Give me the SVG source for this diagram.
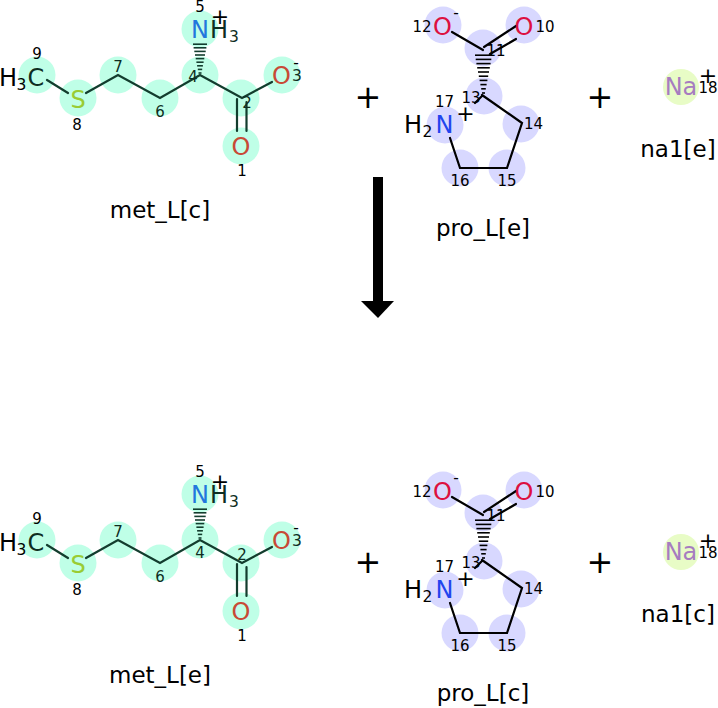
<svg xmlns="http://www.w3.org/2000/svg" width="718" height="708" viewBox="0 0 718 708">
<style>
text{font-family:"DejaVu Sans","Liberation Sans",sans-serif;}
.a{font-size:24px;text-anchor:middle;}
.n{font-size:15px;text-anchor:middle;}
.s{font-size:15.5px;text-anchor:middle;}
.ch{font-size:22px;text-anchor:middle;}
.lbl{font-size:23px;text-anchor:middle;fill:#000;}
.op{font-size:32px;text-anchor:middle;fill:#000;}
.cm{fill:#bfffe7;}
.cp{fill:#d8d8ff;}
.cn{fill:#e8fcc6;}
.bm{stroke:#133d2e;stroke-width:2.2;fill:none;stroke-linecap:round;}
.bp{stroke:#000;stroke-width:2.2;fill:none;stroke-linecap:round;}
.hm{stroke:#133d2e;stroke-width:1.6;}
.hp{stroke:#000;stroke-width:1.6;}
.dm{fill:#0e2e22;}
.k{fill:#000;}
.Om{fill:#c84a36;}
.Nm{fill:#2277dd;}
.Sm{fill:#99cc33;}
.Op{fill:#dd1040;}
.Np{fill:#2244ee;}
.Na{fill:#a67cc0;}
</style>
<defs>
<g id="hashM">
<line class="hm" x1="-1.5" y1="0" x2="1.5" y2="0"/>
<line class="hm" x1="-2.2" y1="-3.6" x2="2.2" y2="-3.6"/>
<line class="hm" x1="-2.9" y1="-7.2" x2="2.9" y2="-7.2"/>
<line class="hm" x1="-3.6" y1="-10.8" x2="3.6" y2="-10.8"/>
<line class="hm" x1="-4.3" y1="-14.4" x2="4.3" y2="-14.4"/>
<line class="hm" x1="-5" y1="-18" x2="5" y2="-18"/>
<line class="hm" x1="-5.7" y1="-21.6" x2="5.7" y2="-21.6"/>
<line class="hm" x1="-6.4" y1="-25.2" x2="6.4" y2="-25.2"/>
<line class="hm" x1="-7" y1="-28.8" x2="7" y2="-28.8"/>
</g>
<g id="hashP">
<line class="hp" x1="-1.5" y1="0" x2="1.5" y2="0"/>
<line class="hp" x1="-2.3" y1="-4.2" x2="2.3" y2="-4.2"/>
<line class="hp" x1="-3.1" y1="-8.4" x2="3.1" y2="-8.4"/>
<line class="hp" x1="-3.9" y1="-12.6" x2="3.9" y2="-12.6"/>
<line class="hp" x1="-4.7" y1="-16.8" x2="4.7" y2="-16.8"/>
<line class="hp" x1="-5.5" y1="-21" x2="5.5" y2="-21"/>
<line class="hp" x1="-6.3" y1="-25.2" x2="6.3" y2="-25.2"/>
<line class="hp" x1="-7.1" y1="-29.4" x2="7.1" y2="-29.4"/>
<line class="hp" x1="-7.8" y1="-33.6" x2="7.8" y2="-33.6"/>
<line class="hp" x1="-8.5" y1="-37.8" x2="8.5" y2="-37.8"/>
</g>
<g id="metBody">
<circle class="cm" cx="37" cy="75" r="18.5"/>
<circle class="cm" cx="78" cy="98" r="18.5"/>
<circle class="cm" cx="118" cy="75" r="18.5"/>
<circle class="cm" cx="160" cy="98" r="18.5"/>
<circle class="cm" cx="200" cy="75" r="18.5"/>
<circle class="cm" cx="200" cy="29" r="18.5"/>
<circle class="cm" cx="241" cy="98" r="18.5"/>
<circle class="cm" cx="282" cy="75" r="18.5"/>
<circle class="cm" cx="241" cy="146" r="18.5"/>
<path class="bm" d="M47 80L68 93M86 93L118 75L160 98L200 75L242 98L272 82M237 99V131M246.5 102V131"/>
<use href="#hashM" transform="translate(200,73)"/>
<text class="a k" x="8" y="86">H</text>
<text class="s k" x="21.5" y="90">3</text>
<text class="a dm" x="36" y="86">C</text>
<text class="a Sm" x="78" y="108">S</text>
<text class="a Nm" x="200" y="38">N</text>
<text class="a dm" x="219" y="38">H</text>
<text class="s dm" x="234" y="42">3</text>
<text class="ch k" x="220" y="24">+</text>
<text class="a Om" x="281.5" y="84">O</text>
<text class="s dm" x="297" y="81">3</text>
<text class="s k" x="296" y="67.5">-</text>
<text class="a Om" x="241" y="155">O</text>
<text class="n k" x="242" y="176">1</text>
<text class="n k" x="37" y="59">9</text>
<text class="n k" x="77" y="130">8</text>
<text class="n dm" x="118" y="72">7</text>
<text class="n dm" x="160" y="117">6</text>
<text class="n k" x="200" y="12">5</text>
</g>
<g id="proBody">
<circle class="cp" cx="443" cy="25" r="18.5"/>
<circle class="cp" cx="524" cy="25" r="18.5"/>
<circle class="cp" cx="483" cy="48" r="18.5"/>
<circle class="cp" cx="484" cy="96" r="18.5"/>
<circle class="cp" cx="445" cy="125" r="18.5"/>
<circle class="cp" cx="521" cy="124" r="18.5"/>
<circle class="cp" cx="460" cy="168" r="18.5"/>
<circle class="cp" cx="507" cy="168" r="18.5"/>
<path class="bp" d="M452 32L483 50M484 47L516 26M490 54L516 39M482 95L522 123L507 168L460 168L450 138M482 96L475 103"/>
<use href="#hashP" transform="translate(483.5,93)"/>
<text class="a Op" x="442.5" y="35">O</text>
<text class="s k" x="456" y="18">-</text>
<text class="n k" x="422" y="32">12</text>
<text class="a Op" x="524" y="35">O</text>
<text class="n k" x="545" y="32">10</text>
<text class="n k" x="496" y="56">11</text>
<text class="n k" x="471" y="103">13</text>
<text class="n k" x="444.5" y="107">17</text>
<text class="ch k" x="465.5" y="120.5">+</text>
<text class="a k" x="413" y="133">H</text>
<text class="s k" x="427.5" y="137">2</text>
<text class="a Np" x="444.5" y="133">N</text>
<text class="n k" x="533.5" y="129">14</text>
<text class="n k" x="460" y="186">16</text>
<text class="n k" x="507" y="186">15</text>
</g>
<g id="naBody">
<circle class="cn" cx="681" cy="87" r="18"/>
<text class="a Na" x="681" y="95">Na</text>
<text class="ch k" x="708" y="83">+</text>
<text class="n k" x="708" y="93">18</text>
</g>
</defs>

<g id="met_L_c">
<use href="#metBody"/>
<text class="n dm" x="193" y="81.5">4</text>
<text class="n dm" x="247" y="108">2</text>
<text class="lbl" x="160" y="218">met_L[c]</text>
</g>
<g id="plus1"><text class="op" x="368" y="108">+</text></g>
<g id="pro_L_e">
<use href="#proBody"/>
<text class="lbl" x="483" y="236">pro_L[e]</text>
</g>
<g id="plus2"><text class="op" x="600" y="108">+</text></g>
<g id="na1_e">
<use href="#naBody"/>
<text class="lbl" x="678" y="157">na1[e]</text>
</g>

<g id="connectors">
<rect x="373" y="177" width="10" height="126" fill="#000"/>
<polygon points="361,301 394,301 378,318" fill="#000"/>
</g>

<g id="met_L_e" transform="translate(0,465)">
<use href="#metBody"/>
<text class="n dm" x="200" y="92.5">4</text>
<text class="n dm" x="242" y="95">2</text>
<text class="lbl" x="160" y="218">met_L[e]</text>
</g>
<g id="plus3"><text class="op" x="368" y="573">+</text></g>
<g id="pro_L_c" transform="translate(0,465)">
<use href="#proBody"/>
<text class="lbl" x="483" y="236">pro_L[c]</text>
</g>
<g id="plus4"><text class="op" x="600" y="573">+</text></g>
<g id="na1_c" transform="translate(0,465)">
<use href="#naBody"/>
<text class="lbl" x="678" y="157">na1[c]</text>
</g>
</svg>
